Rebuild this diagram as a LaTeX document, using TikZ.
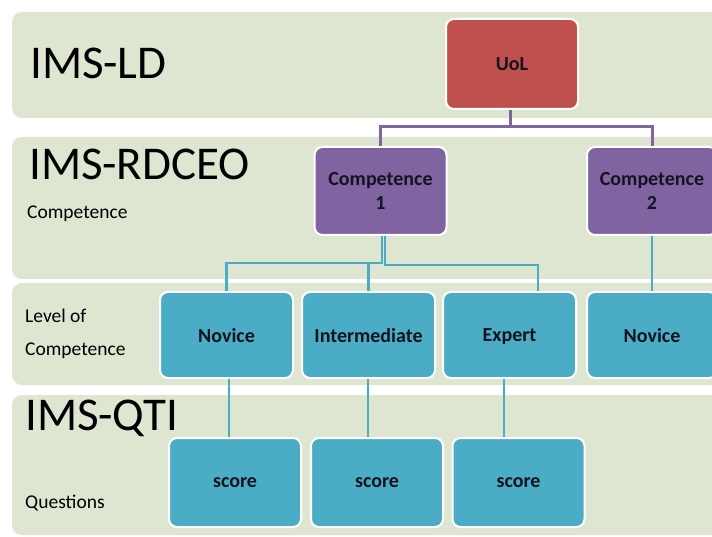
\documentclass[tikz,border=0pt]{standalone}
\usepackage{fontspec}
\setmainfont{Carlito}
\usetikzlibrary{calc}
\definecolor{bandc}{HTML}{DEE6D1}
\definecolor{redc}{HTML}{C0504D}
\definecolor{purc}{HTML}{8064A2}
\definecolor{tealc}{HTML}{4BACC6}
\definecolor{txtc}{HTML}{141421}
\tikzset{
  band/.style={fill=bandc, draw=none, rounded corners=10pt},
  boxnode/.style={rounded corners=8pt, draw=white, line width=2pt, minimum width=132pt,
    minimum height=88pt, inner sep=0pt, align=center, text=txtc, text depth=0pt,
    font=\fontsize{20}{24}\selectfont\bfseries},
  bigtitle/.style={anchor=base west, inner sep=0pt, font=\fontsize{47}{47}\selectfont},
  smalllabel/.style={anchor=base west, inner sep=0pt, font=\fontsize{19.5}{22}\selectfont},
  pline/.style={draw=purc, line width=3pt},
  tline/.style={draw=tealc, line width=2.3pt}
}
\begin{document}
\begin{tikzpicture}[x=1pt,y=-1pt]
\useasboundingbox (0,0) rectangle (712,537);
\fill[white] (0,0) rectangle (712,537);
\clip (0,0) rectangle (712,537);
% bands
\fill[band] (12,12) rectangle (740,118);
\fill[band] (12,137) rectangle (740,279);
\fill[band] (12,283) rectangle (740,385);
\fill[band] (12,395) rectangle (740,535);
% titles
\node[bigtitle] (tld) at (30,79) {IMS-LD};
\node[bigtitle] (trd) at (29,180) {IMS-RDCEO};
\node[bigtitle] (tqt) at (25,430) {IMS-QTI};
\node[smalllabel] (lc) at (27,219) {Competence};
\node[smalllabel] (ll1) at (25,323) {Level of};
\node[smalllabel] (ll2) at (25,355) {Competence};
\node[smalllabel] (lq) at (25,508) {Questions};
% boxes
\node[boxnode, fill=redc, minimum height=90pt] (uol) at (512,64) {UoL};
\node[boxnode, fill=purc] (c1) at (380.5,191) {Competence\\1};
\node[boxnode, fill=purc, minimum width=130pt] (c2) at (652,191) {Competence\\2};
\node[boxnode, fill=tealc, minimum height=86pt, minimum width=133pt] (nov) at (226.5,335) {Novice};
\node[boxnode, fill=tealc, minimum height=86pt, minimum width=133pt] (inter) at (368.5,335) {Intermediate};
\node[boxnode, fill=tealc, minimum height=86pt, minimum width=133pt] (exp) at (509.5,335) {Expert};
\node[boxnode, fill=tealc, minimum height=86pt, minimum width=130pt] (nov2) at (652,335) {Novice};
\node[boxnode, fill=tealc, minimum height=89pt] (s1) at (235,482.5) {score};
\node[boxnode, fill=tealc, minimum height=89pt] (s2) at (377,482.5) {score};
\node[boxnode, fill=tealc, minimum height=89pt] (s3) at (518.5,482.5) {score};
% purple connectors
\coordinate (pj) at (510,127);
\coordinate (ub) at ($(uol.south)+(-2,0)$);
\draw[pline] (ub) -- (ub |- pj);
\draw[pline] (c1.north) |- (pj) -| (c2.north);
% teal connectors
\coordinate (tj) at (382,263);
\coordinate (tk) at (385,265);
\coordinate (cb1) at ($(c1.south)+(1.5,0)$);
\coordinate (cb2) at ($(c1.south)+(4.5,0)$);
\coordinate (et) at ($(exp.north)+(28.5,0)$);
\draw[tline] (cb1) |- (tj) -| (nov.north);
\draw[tline] (inter.north) -- (inter.north |- tj);
\draw[tline] (cb2) |- (tk) -| (et);
\draw[tline] (c2.south) -- (nov2.north);
\coordinate (a1) at ($(nov.south)+(2.5,0)$);
\coordinate (a2) at ($(inter.south)+(-0.5,0)$);
\coordinate (a3) at ($(exp.south)+(-5.5,0)$);
\draw[tline] (a1) -- (a1 |- s1.north);
\draw[tline] (a2) -- (a2 |- s2.north);
\draw[tline] (a3) -- (a3 |- s3.north);
\end{tikzpicture}
\end{document}
